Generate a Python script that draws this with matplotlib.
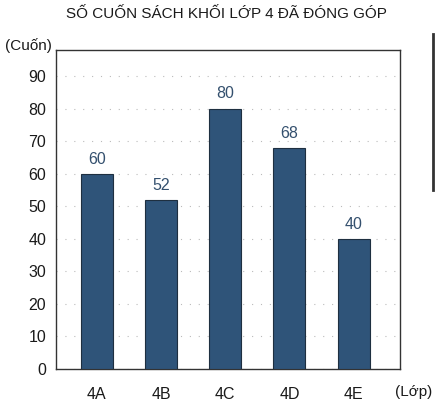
import matplotlib
matplotlib.use("Agg")
import matplotlib.pyplot as plt
from matplotlib.lines import Line2D

plt.rcParams['font.family'] = ['Liberation Sans', 'DejaVu Sans']

title = "SỐ CUỐN SÁCH KHỐI LỚP 4 ĐÃ ĐÓNG GÓP"
classes = ["4A", "4B", "4C", "4D", "4E"]
books = [60, 52, 80, 68, 40]
yticks = [0, 10, 20, 30, 40, 50, 60, 70, 80, 90]
ylabel = "(Cuốn)"
xlabel = "(Lớp)"

bar_color = "#2f5479"
label_color = "#34506e"
text_color = "#1a1a1a"

fig = plt.figure(figsize=(4.36, 4.04), dpi=100)
ax = fig.add_axes([0.128, 0.087, 0.789, 0.789])

x = list(range(len(classes)))
ax.bar(x, books, width=0.5, color=bar_color, edgecolor="#1e2f40", linewidth=0.8, zorder=3)
for xi, v in zip(x, books):
    ax.text(xi, v + 2.2, str(v), ha="center", va="bottom", fontsize=11.5, color=label_color, zorder=4)

ax.set_xlim(-0.64, 4.72)
ax.set_ylim(0, 98)
ax.set_yticks(yticks)
ax.set_xticks(x)
ax.set_xticklabels(classes)
ax.tick_params(axis="both", length=0, labelsize=11.5, colors=text_color)
ax.tick_params(axis="x", pad=13)
ax.tick_params(axis="y", pad=7)
ax.grid(axis="y", linestyle=(0, (1, 7)), color="#bbbbbb", linewidth=0.8, zorder=0)
for s in ax.spines.values():
    s.set_color("#333333")
    s.set_linewidth(1.0)

fig.text(0.52, 0.965, title, ha="center", va="center", fontsize=11, color=text_color)
fig.text(0.012, 0.888, ylabel, ha="left", va="center", fontsize=11, color=text_color)
fig.text(0.905, 0.030, xlabel, ha="left", va="center", fontsize=11, color=text_color)

# scan edge mark at right
fig.add_artist(Line2D([0.993, 0.993], [0.53, 0.915], transform=fig.transFigure, color="#333333", linewidth=2.0))

fig.savefig("out.png", dpi=100)
